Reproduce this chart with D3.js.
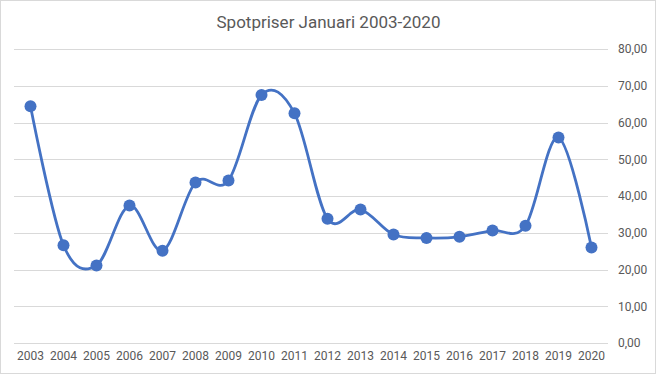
<!DOCTYPE html>
<html>
<head>
<meta charset="utf-8">
<script src="https://cdnjs.cloudflare.com/ajax/libs/d3/7.8.5/d3.min.js"></script>
<style>
  body { margin: 0; background: #fff; }
  text { font-family: "Liberation Sans Narrow", Roboto, sans-serif; fill: #595959; }
</style>
</head>
<body>
<script>
let width, height, svg, xScale, yScale, xAxis, yAxis, line;
width = 656;
height = 375;

// data
const years = ['2003','2004','2005','2006','2007','2008','2009','2010','2011','2012','2013','2014','2015','2016','2017','2018','2019','2020'];
const prices = [64.4, 26.6, 21.1, 37.4, 25.1, 43.7, 44.2, 67.5, 62.5, 33.8, 36.3, 29.5, 28.6, 28.9, 30.6, 31.9, 55.9, 26.0];
const yTicks = [0, 10, 20, 30, 40, 50, 60, 70, 80];
const title = 'Spotpriser Januari 2003-2020';

const margin = { left: 14, right: 48, top: 49, bottom: 32 };

svg = d3.select('body')
  .append('svg')
  .attr('width', width)
  .attr('height', height)
  .style('display', 'block');

// chart border
svg.append('rect')
  .attr('x', 0.5).attr('y', 0.5)
  .attr('width', width - 1).attr('height', height - 2)
  .attr('fill', '#fff')
  .attr('stroke', '#d9d9d9');

xScale = d3.scaleBand()
  .domain(years)
  .range([margin.left, width - margin.right]);

yScale = d3.scaleLinear()
  .domain([0, 80])
  .range([height - margin.bottom, margin.top]);

// gridlines
svg.append('g')
  .selectAll('line')
  .data(yTicks)
  .enter()
  .append('line')
  .attr('x1', margin.left)
  .attr('x2', width - margin.right)
  .attr('y1', d => Math.round(yScale(d)) + 0.5)
  .attr('y2', d => Math.round(yScale(d)) + 0.5)
  .attr('stroke', '#d9d9d9')
  .attr('stroke-width', 1);

// y axis on right
yAxis = d3.axisRight(yScale)
  .tickValues(yTicks)
  .tickSize(0)
  .tickPadding(10)
  .tickFormat(d => d3.format('.2f')(d).replace('.', ','));
svg.append('g')
  .attr('transform', 'translate(' + (width - margin.right) + ',0)')
  .call(yAxis)
  .call(g => g.select('.domain').remove())
  .selectAll('text')
  .style('font-size', '12px')
  .attr('fill', '#595959');

// x axis
xAxis = d3.axisBottom(xScale).tickSize(0).tickPadding(8);
svg.append('g')
  .attr('transform', 'translate(0,' + (height - margin.bottom) + ')')
  .call(xAxis)
  .call(g => g.select('.domain').remove())
  .selectAll('text')
  .style('font-size', '12px')
  .attr('fill', '#595959');

// smoothed line
line = d3.line()
  .x((d, i) => xScale(years[i]) + xScale.bandwidth() / 2)
  .y(d => yScale(d))
  .curve(d3.curveCardinal.tension(0));

svg.append('path')
  .datum(prices)
  .attr('d', line)
  .attr('fill', 'none')
  .attr('stroke', '#4472c4')
  .attr('stroke-width', 2.8)
  .attr('stroke-linejoin', 'round');

svg.selectAll('circle')
  .data(prices)
  .enter()
  .append('circle')
  .attr('cx', (d, i) => xScale(years[i]) + xScale.bandwidth() / 2)
  .attr('cy', d => yScale(d))
  .attr('r', 6)
  .attr('fill', '#4472c4');

// title
svg.append('text')
  .attr('x', 328.5)
  .attr('y', 28)
  .attr('text-anchor', 'middle')
  .style('font-size', '17px')
  .text(title);
</script>
</body>
</html>
